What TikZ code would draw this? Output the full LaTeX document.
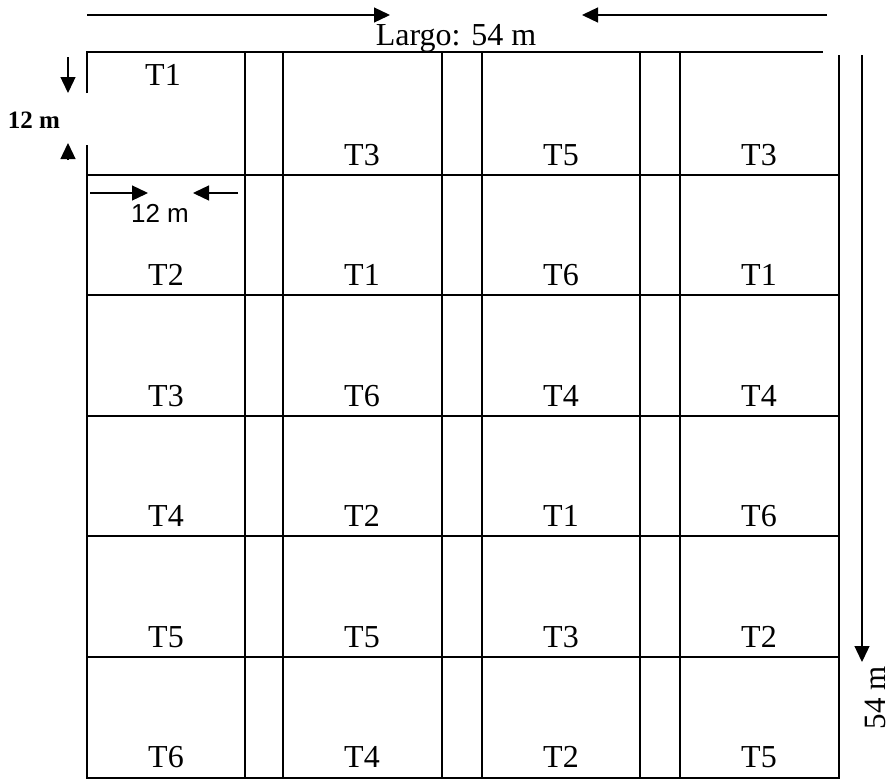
\documentclass[tikz,border=0pt]{standalone}
\usepackage{fontspec}
\setmainfont{Liberation Serif}
\newfontfamily\dimsans{Liberation Sans}
\usetikzlibrary{arrows.meta}
\begin{document}
\begin{tikzpicture}[x=1pt,y=-1pt,
  gridline/.style={line width=1.5pt, black},
  dimarrow/.style={line width=1.3pt, -{Triangle[length=16pt,width=15pt]}},
  lab/.style={font=\fontsize{32}{34}\selectfont, inner sep=0pt, anchor=base},
  dimtext/.style={inner sep=0pt, anchor=base}]
\useasboundingbox (0,0) rectangle (892,780);
% outer frame
\draw[gridline] (87,93) -- (87,52) -- (823,52);
\draw[gridline] (87,145) -- (87,778) -- (839,778) -- (839,55);
\draw[line width=2.6pt] (839,657) -- (839,740);
% column lines
\foreach \x in {245,283,442,482,640,680}
  \draw[gridline] (\x,52) -- (\x,778);
% row lines
\foreach \y in {175,295,416,536,657}
  \draw[gridline] (87,\y) -- (839,\y);
% plot labels
\node[lab] (r1c1) at (163,85) {T1};
\node[lab] (r1c2) at (362,165) {T3};
\node[lab] (r1c3) at (561,165) {T5};
\node[lab] (r1c4) at (759,165) {T3};
\node[lab] (r2c1) at (166,285) {T2};
\node[lab] (r2c2) at (362,285) {T1};
\node[lab] (r2c3) at (561,285) {T6};
\node[lab] (r2c4) at (759,285) {T1};
\node[lab] (r3c1) at (166,406) {T3};
\node[lab] (r3c2) at (362,406) {T6};
\node[lab] (r3c3) at (561,406) {T4};
\node[lab] (r3c4) at (759,406) {T4};
\node[lab] (r4c1) at (166,526) {T4};
\node[lab] (r4c2) at (362,526) {T2};
\node[lab] (r4c3) at (561,526) {T1};
\node[lab] (r4c4) at (759,526) {T6};
\node[lab] (r5c1) at (166,647) {T5};
\node[lab] (r5c2) at (362,647) {T5};
\node[lab] (r5c3) at (561,647) {T3};
\node[lab] (r5c4) at (759,647) {T2};
\node[lab] (r6c1) at (166,767) {T6};
\node[lab] (r6c2) at (362,767) {T4};
\node[lab] (r6c3) at (561,767) {T2};
\node[lab] (r6c4) at (759,767) {T5};
% dimension: length
\node[lab] (largo) at (456,45) {Largo: 54 m};
\coordinate (topL) at (87,15);
\coordinate (topLtip) at (390,15);
\coordinate (topR) at (827,15);
\coordinate (topRtip) at (582,15);
\draw[dimarrow] (topL) -- (topLtip);
\draw[dimarrow] (topR) -- (topRtip);
% dimension: plot height
\node[dimtext, font=\fontsize{25}{27}\selectfont\bfseries] (hgt) at (34,128) {12 m};
\coordinate (hA) at (68,57);
\coordinate (hAtip) at (68,93);
\coordinate (hB) at (68,160);
\coordinate (hBtip) at (68,143);
\draw[dimarrow] (hA) -- (hAtip);
\draw[dimarrow] (hB) -- (hBtip);
% dimension: plot width
\node[dimtext, font=\dimsans\fontsize{26}{28}\selectfont] (wdt) at (160,222) {12 m};
\coordinate (wA) at (90,193);
\coordinate (wAtip) at (148,193);
\coordinate (wB) at (238,193);
\coordinate (wBtip) at (193,193);
\draw[dimarrow] (wA) -- (wAtip);
\draw[dimarrow] (wB) -- (wBtip);
% dimension: total width
\coordinate (vA) at (862,55);
\coordinate (vAtip) at (862,662);
\draw[dimarrow] (vA) -- (vAtip);
\node[font=\fontsize{31}{33}\selectfont, inner sep=0pt, rotate=90, anchor=base] (ancho) at (885,698) {54 m};
\end{tikzpicture}
\end{document}
